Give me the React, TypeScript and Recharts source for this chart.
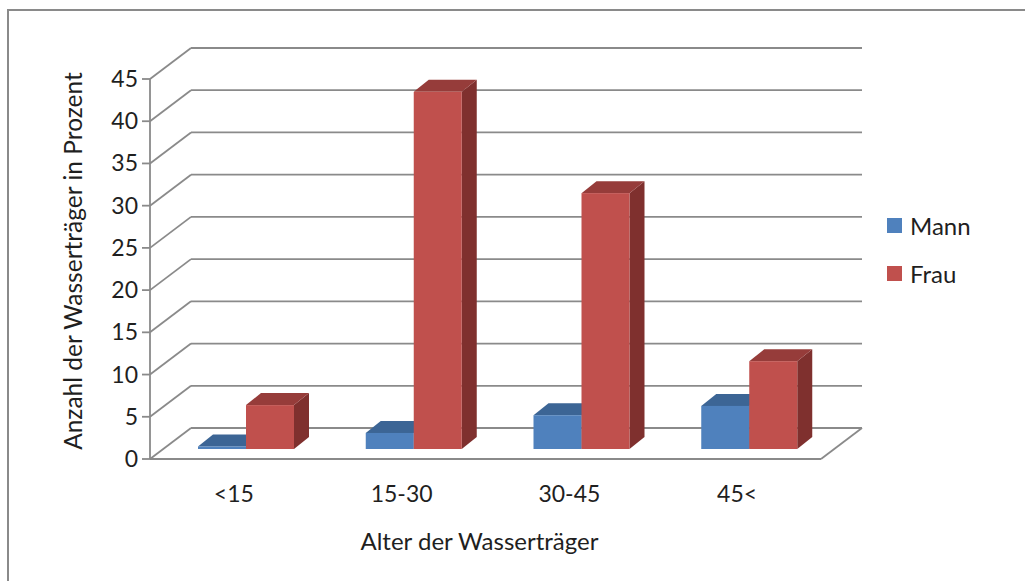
import { BarChart, Bar, XAxis, YAxis, CartesianGrid, Legend, ReferenceLine } from "recharts";

const categories = ["<15", "15-30", "30-45", "45<"];
const mannValues = [0.3, 1.9, 4.0, 5.1];
const frauValues = [5.2, 42.3, 30.3, 10.4];
const yTicks = [0, 5, 10, 15, 20, 25, 30, 35, 40, 45];

const data = categories.map((age, i) => ({ age, mann: mannValues[i], frau: frauValues[i] }));

const FONT = "Lato, 'Open Sans', sans-serif";
const GRID = "#8a8a8a";
const TEXT = "#1f1f1f";

// wall depth (back wall offset) and bar placement inside the depth
const WALL_DX = 41;
const WALL_DY = 31;
const BAR_OX = 12;
const BAR_OY = 10;
const BAR_DX = 15;
const BAR_DY = 12;

const SERIES = {
  mann: { front: "#4f81bd", top: "#3c6595", side: "#345882" },
  frau: { front: "#c0504d", top: "#963c3a", side: "#7f302e" },
};

function gridLine(props: any) {
  const { x1, y1, x2 } = props;
  return (
    <g key={props.key ?? `g-${y1}`}>
      <line x1={x1} y1={y1} x2={x1 + WALL_DX} y2={y1 - WALL_DY} stroke={GRID} strokeWidth={1.8} />
      <line x1={x1 + WALL_DX} y1={y1 - WALL_DY} x2={x2 + WALL_DX} y2={y1 - WALL_DY} stroke={GRID} strokeWidth={1.8} />
    </g>
  );
}

function floorEdge(props: any) {
  const { x1, y1, x2 } = props;
  return (
    <g>
      <line x1={x1} y1={y1} x2={x2} y2={y1} stroke={GRID} strokeWidth={1.8} />
      <line x1={x2} y1={y1} x2={x2 + WALL_DX} y2={y1 - WALL_DY} stroke={GRID} strokeWidth={1.8} />
    </g>
  );
}

function makeBox(colors: { front: string; top: string; side: string }) {
  return (props: any) => {
    const { x, y, width, height } = props;
    if (width == null || height == null) return <g />;
    const fx = x + BAR_OX;
    const fy = y - BAR_OY;
    const w = width;
    const h = Math.max(height, 0);
    const top = `${fx},${fy} ${fx + w},${fy} ${fx + w + BAR_DX},${fy - BAR_DY} ${fx + BAR_DX},${fy - BAR_DY}`;
    const side = `${fx + w},${fy} ${fx + w + BAR_DX},${fy - BAR_DY} ${fx + w + BAR_DX},${fy - BAR_DY + h} ${fx + w},${fy + h}`;
    return (
      <g>
        <polygon points={side} fill={colors.side} />
        <polygon points={top} fill={colors.top} />
        <rect x={fx} y={fy} width={w} height={h} fill={colors.front} />
      </g>
    );
  };
}

function xTick(props: any) {
  const { x, y, payload } = props;
  return (
    <text x={x} y={y + 35} textAnchor="middle" fontFamily={FONT} fontSize={23} fill={TEXT}>
      {payload.value}
    </text>
  );
}

function yTick(props: any) {
  const { x, y, payload } = props;
  return (
    <text x={x - 2} y={y + 8} textAnchor="end" fontFamily={FONT} fontSize={23} fill={TEXT}>
      {payload.value}
    </text>
  );
}

function legendContent() {
  const items = [
    { name: "Mann", color: SERIES.mann.front },
    { name: "Frau", color: SERIES.frau.front },
  ];
  return (
    <div style={{ fontFamily: FONT, fontSize: 24, color: TEXT }}>
      {items.map((it) => (
        <div key={it.name} style={{ display: "flex", alignItems: "center", height: 48 }}>
          <span style={{ width: 15, height: 15, background: it.color, marginRight: 8, display: "inline-block" }} />
          <span>{it.name}</span>
        </div>
      ))}
    </div>
  );
}

export default function App() {
  return (
    <div style={{ position: "absolute", left: 0, top: 0, width: 1025, height: 581, overflow: "hidden", background: "#fff" }}>
      <div style={{ position: "absolute", left: 7, top: 9, width: 1100, height: 700, border: "2px solid #8a8a8a" }} />
      <BarChart
        width={1025}
        height={581}
        data={data}
        barSize={48}
        barGap={0}
        margin={{ top: 79, right: 204, left: 70, bottom: 92 }}
      >
        <CartesianGrid vertical={false} horizontal={gridLine} />
        <ReferenceLine y={0} shape={floorEdge} />
        <XAxis
          dataKey="age"
          axisLine={false}
          tickLine={false}
          height={30}
          tick={xTick}
          interval={0}
          label={{
            content: (p: any) => {
              const vb = p.viewBox;
              return (
                <text x={vb.x + vb.width / 2 - 6} y={550} textAnchor="middle" fontFamily={FONT} fontSize={24} fill={TEXT}>
                  Alter der Wasserträger
                </text>
              );
            },
          }}
        />
        <YAxis
          width={80}
          domain={[0, 45]}
          ticks={yTicks}
          interval={0}
          axisLine={{ stroke: GRID, strokeWidth: 1.8 }}
          tickLine={{ stroke: GRID, strokeWidth: 1.8 }}
          tickSize={8}
          tick={yTick}
          label={{
            content: () => (
              <text
                x={82}
                y={261}
                transform="rotate(-90 82 261)"
                textAnchor="middle"
                fontFamily={FONT}
                fontSize={24.5}
                fill={TEXT}
              >
                Anzahl der Wasserträger in Prozent
              </text>
            ),
          }}
        />
        <Legend
          layout="vertical"
          align="center"
          verticalAlign="middle"
          content={legendContent}
          wrapperStyle={{ left: 887, top: 201, width: 120 }}
        />
        <Bar dataKey="mann" name="Mann" fill={SERIES.mann.front} shape={makeBox(SERIES.mann)} isAnimationActive={false} />
        <Bar dataKey="frau" name="Frau" fill={SERIES.frau.front} shape={makeBox(SERIES.frau)} isAnimationActive={false} />
      </BarChart>
    </div>
  );
}
